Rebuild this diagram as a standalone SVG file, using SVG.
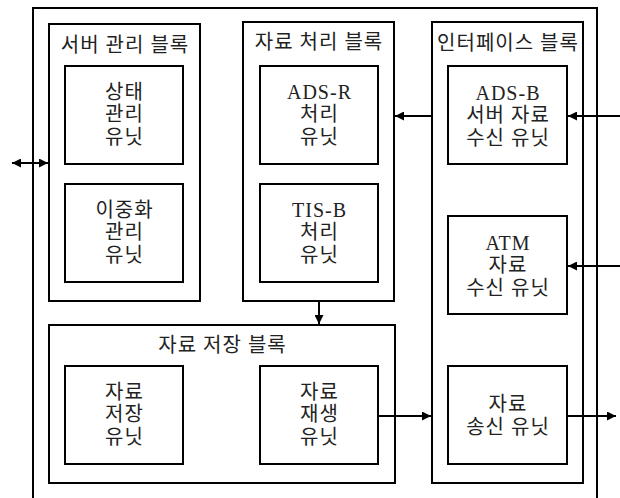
<svg xmlns="http://www.w3.org/2000/svg" width="620" height="498" viewBox="0 0 620 498">
<style>
.b{fill:none;stroke:#000;stroke-width:2}
.t{font-family:"Liberation Serif","Noto Sans CJK KR",serif;font-size:20px;letter-spacing:1px;fill:#222;text-anchor:middle}
.c{stroke:#000;stroke-width:2;fill:none}
</style>
<defs>
<marker id="ah" viewBox="0 0 10 10" refX="10" refY="5" markerWidth="9" markerHeight="9" markerUnits="userSpaceOnUse" orient="auto-start-reverse">
<path d="M0,0 L10,5 L0,10 z" fill="#000"/>
</marker>
</defs>
<rect width="620" height="498" fill="#fff"/>
<g id="outer"><path class="b" d="M33,510 V8 H597 V510"/></g>

<g id="server-block">
<rect class="b" x="49" y="24" width="151" height="277"/>
<text class="t" x="125" y="52">서버 관리 블록</text>
</g>
<g id="state-unit">
<rect class="b" x="65" y="66" width="118" height="98"/>
<text class="t" x="124.5" y="99">상태</text>
<text class="t" x="124.5" y="121">관리</text>
<text class="t" x="124.5" y="144">유닛</text>
</g>
<g id="dual-unit">
<rect class="b" x="65" y="184" width="118" height="98"/>
<text class="t" x="124.5" y="217">이중화</text>
<text class="t" x="124.5" y="239">관리</text>
<text class="t" x="124.5" y="262">유닛</text>
</g>

<g id="proc-block">
<rect class="b" x="243" y="22" width="151" height="279"/>
<text class="t" x="319" y="49">자료 처리 블록</text>
</g>
<g id="adsr-unit">
<rect class="b" x="260" y="66" width="118" height="98"/>
<text class="t" x="319.5" y="99">ADS-R</text>
<text class="t" x="319.5" y="121">처리</text>
<text class="t" x="319.5" y="144">유닛</text>
</g>
<g id="tisb-unit">
<rect class="b" x="260" y="184" width="118" height="98"/>
<text class="t" x="319.5" y="217">TIS-B</text>
<text class="t" x="319.5" y="239">처리</text>
<text class="t" x="319.5" y="262">유닛</text>
</g>

<g id="if-block">
<rect class="b" x="432" y="22" width="151" height="461"/>
<text class="t" x="508" y="50">인터페이스 블록</text>
</g>
<g id="adsb-unit">
<rect class="b" x="448" y="66" width="119" height="98"/>
<text class="t" x="508" y="100">ADS-B</text>
<text class="t" x="508" y="122">서버 자료</text>
<text class="t" x="508" y="145">수신 유닛</text>
</g>
<g id="atm-unit">
<rect class="b" x="448" y="216" width="119" height="98"/>
<text class="t" x="508" y="250">ATM</text>
<text class="t" x="508" y="272">자료</text>
<text class="t" x="508" y="295">수신 유닛</text>
</g>
<g id="send-unit">
<rect class="b" x="448" y="366" width="119" height="98"/>
<text class="t" x="508" y="411">자료</text>
<text class="t" x="508" y="434">송신 유닛</text>
</g>

<g id="store-block">
<rect class="b" x="49" y="325" width="346" height="158"/>
<text class="t" x="222.5" y="352">자료 저장 블록</text>
</g>
<g id="store-unit">
<rect class="b" x="65" y="366" width="118" height="98"/>
<text class="t" x="124.5" y="399">자료</text>
<text class="t" x="124.5" y="421">저장</text>
<text class="t" x="124.5" y="444">유닛</text>
</g>
<g id="replay-unit">
<rect class="b" x="260" y="366" width="118" height="98"/>
<text class="t" x="319.5" y="399">자료</text>
<text class="t" x="319.5" y="421">재생</text>
<text class="t" x="319.5" y="444">유닛</text>
</g>

<g id="connectors">
<line class="c" x1="12" y1="163" x2="48" y2="163" marker-start="url(#ah)" marker-end="url(#ah)"/>
<line class="c" x1="432" y1="116" x2="395" y2="116" marker-end="url(#ah)"/>
<line class="c" x1="620" y1="116" x2="568" y2="116" marker-end="url(#ah)"/>
<line class="c" x1="620" y1="266" x2="568" y2="266" marker-end="url(#ah)"/>
<line class="c" x1="319" y1="302" x2="319" y2="324" marker-end="url(#ah)"/>
<line class="c" x1="379" y1="416" x2="431" y2="416" marker-end="url(#ah)"/>
<line class="c" x1="568" y1="416" x2="616" y2="416" marker-end="url(#ah)"/>
</g>
</svg>
